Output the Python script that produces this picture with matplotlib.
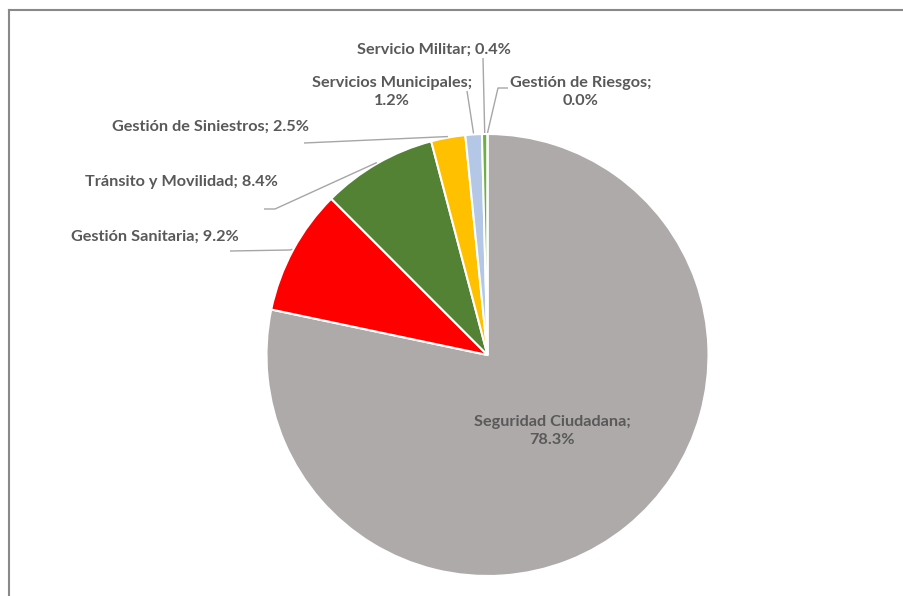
import numpy as np
import matplotlib as mpl
mpl.use('Agg')
import matplotlib.pyplot as plt

categories = ['Seguridad Ciudadana', 'Gestión Sanitaria', 'Tránsito y Movilidad',
              'Gestión de Siniestros', 'Servicios Municipales', 'Servicio Militar',
              'Gestión de Riesgos']
values = [78.3, 9.2, 8.4, 2.5, 1.2, 0.4, 0.0]
colors = ['#AEAAAA', '#FF0000', '#548235', '#FFC000', '#B4C7E7', '#70AD47', '#4472C4']

W, H = 904, 596
TXT = '#595959'
LEAD = '#A6A6A6'

def py(y):
    # pixel y (from top) -> data y
    return H - y

fig = plt.figure(figsize=(W / 100, H / 100), dpi=100)
ax = fig.add_axes([0, 0, 1, 1])
ax.set_xlim(0, W)
ax.set_ylim(0, H)
ax.set_aspect('equal')
ax.axis('off')

cx, cy, r = 487.5, py(355), 221
wedges, _ = ax.pie(values, colors=colors, startangle=90, counterclock=False,
                   center=(cx, cy), radius=r, frame=True,
                   wedgeprops=dict(edgecolor='white', linewidth=1.5))
ax.set_xlim(0, W)
ax.set_ylim(0, H)
ax.axis('off')

def edge_pt(i, rr=r + 1):
    w = wedges[i]
    a = np.deg2rad((w.theta1 + w.theta2) / 2)
    return cx + rr * np.cos(a), cy + rr * np.sin(a)

def lab(i, two_lines=False):
    sep = ';\n' if two_lines else '; '
    return f'{categories[i]}{sep}{values[i]:.1f}%'

font = dict(family=['Lato', 'DejaVu Sans'], fontsize=11.7, fontweight='bold', color=TXT)

# label text centres (pixels) and leader start points
labels = [
    (0, (552, 431), True, None),
    (1, (155, 237), False, [(230, 251), (290, 250)]),
    (2, (181, 182), False, [(264, 209), (275, 209)]),
    (3, (211, 127), False, [(304, 143)]),
    (4, (392, 92), True, [(467, 91)]),
    (5, (434, 50), False, [(483, 58)]),
    (6, (581, 92), True, [(508, 88), (498, 88)]),
]

for i, (x, y), two, lead in labels:
    ax.text(x, py(y), lab(i, two), ha='center', va='center', linespacing=1.45, **font)
    if lead:
        ex, ey = edge_pt(i)
        xs = [p[0] for p in lead] + [ex]
        ys = [py(p[1]) for p in lead] + [ey]
        ax.plot(xs, ys, color=LEAD, lw=1, solid_capstyle='butt')

# partial chart frame (top and left)
ax.plot([9.5, W], [py(10), py(10)], color='#898989', lw=1.5)
ax.plot([9.5, 9.5], [py(10), 0], color='#898989', lw=1.5)

fig.savefig('out.png', dpi=100)
